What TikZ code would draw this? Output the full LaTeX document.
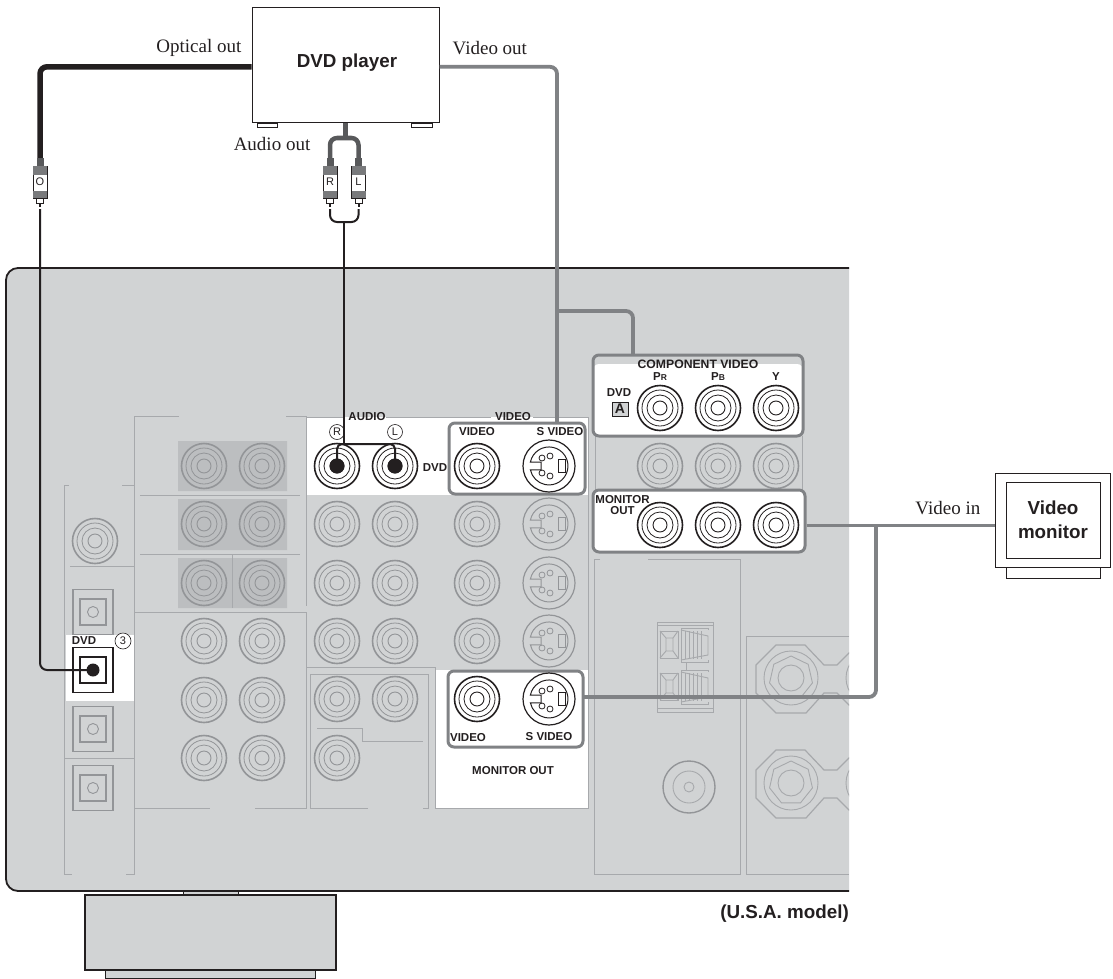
\documentclass[tikz,border=0pt]{standalone}
\usepackage{fontspec}
\setmainfont{Liberation Serif}
\setsansfont{Liberation Sans}
\usetikzlibrary{positioning, shapes.geometric}
\definecolor{panelgray}{HTML}{D1D3D4}
\definecolor{shadegray}{HTML}{BCBEC0}
\definecolor{linegray}{HTML}{A7A9AC}
\definecolor{jackgray}{HTML}{939598}
\definecolor{cablegray}{HTML}{808285}
\definecolor{forkgray}{HTML}{58595B}
\definecolor{inkblack}{HTML}{231F20}
\tikzset{
    cablelabel/.style={inner sep=0pt, text=inkblack, font=\fontsize{19}{22}\selectfont},
    biglabel/.style={inner sep=0pt, text=inkblack, align=center, font=\sffamily\bfseries\fontsize{18.8}{24}\selectfont},
    smalllabel/.style={inner sep=0pt, text=inkblack, align=center, font=\sffamily\bfseries\fontsize{11.5}{10.5}\selectfont},
    circlelabel/.style={circle, draw=inkblack, fill=white, line width=.6pt, inner sep=0pt, minimum size=15pt, text=inkblack, font=\sffamily\fontsize{11}{11}\selectfont},
    devicebox/.style={rectangle, draw=inkblack, fill=white, line width=1pt, inner sep=0pt},
    plugbody/.style={rectangle, draw=inkblack, fill=white, line width=.8pt, inner sep=0pt, minimum width=14pt, minimum height=32pt, text=inkblack, font=\sffamily\fontsize{11}{11}\selectfont},
    groupbox/.style={rectangle, rounded corners=6pt, draw=cablegray, line width=3pt, inner sep=0pt},
    thingray/.style={draw=linegray, line width=.9pt},
    opticalcable/.style={draw=inkblack, line width=5.5pt},
    videocable/.style={draw=cablegray, line width=3.8pt},
    forkcable/.style={draw=forkgray, line width=4.5pt},
    feedline/.style={draw=inkblack, line width=2pt},
    terminalnut/.style={regular polygon, regular polygon sides=7, draw=linegray, line width=.9pt, inner sep=0pt, minimum size=44pt}
}
% one round socket
\newcommand{\rcajack}[2]{%
    \draw[#2, line width=1.6pt] (#1) circle[radius=22.5];
    \draw[#2, line width=.8pt] (#1) circle[radius=18] (#1) circle[radius=13];
    \draw[#2, line width=.9pt] (#1) circle[radius=7];
}
% one S video socket
\newcommand{\svideojack}[2]{%
    \begin{scope}[shift={(#1)}, #2]
        \draw[line width=1.2pt] (0,0) circle[radius=26];
        \draw[line width=1pt] (-8,-4) -- (-18.6,-4) arc[start angle=192, end angle=528, radius=19] -- (-8,4) -- cycle;
        \draw[line width=1pt] (9,-6.5) rectangle (16,6.5);
        \foreach \px/\py in {-7/-8, 1/-10, -7/7, 1/10}{
            \draw[line width=.8pt] (\px,\py) circle[radius=3];
        }
    \end{scope}
}
% one square optical socket
\newcommand{\opticaljack}[2]{%
    \begin{scope}[shift={(93,#1)}, #2]
        \draw[line width=1.8pt] (-20,-22.5) rectangle (20,22.5);
        \draw[line width=1.1pt] (-13,-13) rectangle (13,13);
    \end{scope}
}
% one plug on a cable
\newcommand{\cableplug}[3]{%
    \begin{scope}[shift={(#2,0)}]
        \fill[forkgray] (-3.5,158) rectangle (3.5,166);
        \node[plugbody](#1) at (0,182){#3};
        \fill[forkgray!80] (-7,166) rectangle (7,175);
        \fill[forkgray!80] (-7,191) rectangle (7,198);
        \draw[inkblack, fill=white, line width=.8pt] (-3.5,198) rectangle (3.5,203);
        \fill[inkblack] (-1,203) rectangle (1,207);
    \end{scope}
}
% one push clip of the speaker block
\newcommand{\speakerclip}[1]{%
    \begin{scope}[shift={(0,#1)}, thingray]
        \draw (660,0) rectangle (678,27);
        \draw (666,7) rectangle (673,20) (660,0) -- (666,7) (678,0) -- (673,7) (660,27) -- (666,20) (678,27) -- (673,20);
        \draw (708,-1) -- (708,-3) -- (681,-3) -- (681,31) -- (708,31) -- (708,29);
        \draw (681,-1) -- (708,5) -- (708,24) -- (681,29);
        \foreach \rx in {685,689,693,697,701}{
            \draw[line width=.6pt] (\rx,0) -- (\rx,28);
        }
    \end{scope}
}
% one screw terminal with its neck
\newcommand{\screwterminal}[2]{%
    \begin{scope}[shift={(0,#1)}, thingray]
        \draw[line width=1.2pt] (850,-26) -- (837,-13) -- (824,-13) -- (805,-33) -- (776,-33) -- (756,-13) -- (756,15) -- (776,35) -- (806,35) -- (824,15) -- (837,15) -- (850,28);
        \draw (791,0) circle[radius=27] (791,0) circle[radius=13] (873,0) circle[radius=27] (873,0) circle[radius=13];
        \node[terminalnut](#2) at (791,0){};
    \end{scope}
}

\begin{document}
\begin{tikzpicture}[x=1pt, y=-1pt]
    \useasboundingbox (0,0) rectangle (1113,979);

    %Feet and panel
    \fill[panelgray] (105,970) rectangle (315,978);
    \draw[inkblack, line width=1pt] (105,970) rectangle (315,978);
    \draw[inkblack, fill=panelgray, line width=1pt] (183,888) rectangle (238,895);
    \draw[inkblack, fill=panelgray, line width=1.8pt] (85,895) rectangle (336,970);
    \path[fill=panelgray, draw=inkblack, line width=1.8pt] (849,268) [rounded corners=12pt] -- (6,268) -- (6,891) [sharp corners] -- (849,891);
    \coordinate (panelcorner) at (849,891);

    %Shaded sockets and white areas
    \fill[shadegray] (178,441) rectangle (287,491) (178,499) rectangle (287,550) (178,558) rectangle (287,608);
    \fill[white] (306,417) rectangle (588,495);
    \fill[white] (435,670) rectangle (588,808);
    \fill[white] (66,635) rectangle (134,701);

    %Panel lines
    \draw[thingray] (179,416) -- (134.5,416) -- (134.5,874) -- (125.5,874);
    \draw[thingray] (286,416) -- (306,416) -- (306,606);
    \draw[thingray] (122,485) -- (134.5,485);
    \draw[thingray] (69,485) -- (64,485) -- (64,874) -- (72,874);
    \draw[thingray] (140,495) -- (300,495) (140,554) -- (300,554) (232.7,554) -- (232.7,608);
    \draw[thingray] (70,566) -- (134.5,566) (64,758) -- (134.5,758);
    \draw[thingray] (134.5,612) -- (306,612) -- (306,667) -- (435,667) (306,612) -- (306,808) -- (255,808) (134.5,808) -- (210,808);
    \draw[thingray] (368,808) -- (310.7,808) -- (310.7,674) -- (428,674) -- (428,808) -- (423,808);
    \draw[thingray] (317,728) -- (362,728) -- (362,741) -- (423,741);
    \draw[thingray] (306,417) -- (345,417) (386,417) -- (491,417) (533,417) -- (588,417) -- (588,808) -- (435,808) -- (435,667);
    \draw[thingray] (595,436) -- (595,491) (802,436) -- (802,491);
    \draw[thingray] (600,559) -- (594,559) -- (594,874) -- (740,874) -- (740,559) -- (648,559);
    \draw[thingray] (849,636) -- (746,636) -- (746,874) -- (849,874);

    %Left column of sockets
    \rcajack{95,541}{jackgray}
    \foreach \py in {612,729,788}{
        \opticaljack{\py}{jackgray}
        \draw[jackgray, line width=.9pt] (93,\py) circle[radius=5.5];
    }
    \opticaljack{670}{inkblack}
    \coordinate (opticalin) at (93,670);
    \node[smalllabel](opticaldvd) at (84,641){DVD};
    \node[circlelabel, minimum size=16pt](stepthree) at (123,641){3};

    %Sockets in rows
    \foreach \py in {466,524,583,641,700,758}{
        \rcajack{204,\py}{jackgray}
        \rcajack{262,\py}{jackgray}
    }
    \foreach \py in {524,583,641}{
        \rcajack{337,\py}{jackgray}
        \rcajack{395,\py}{jackgray}
        \rcajack{477,\py}{jackgray}
        \svideojack{549,\py}{jackgray}
    }
    \rcajack{337,699}{jackgray}
    \rcajack{395,699}{jackgray}
    \rcajack{337,758}{jackgray}
    \foreach \px in {660,718,776}{
        \rcajack{\px,466}{jackgray}
    }

    %Speaker block, screw terminals and antenna socket
    \draw[thingray] (657,622) rectangle (713.5,712) (657,625.5) -- (713.5,625.5) (657,708) -- (713.5,708);
    \speakerclip{631}
    \speakerclip{673}
    \draw[thingray] (686,662) -- (686,670);
    \draw[jackgray, line width=1.4pt] (689,787) circle[radius=26];
    \draw[thingray] (689,787) circle[radius=16] (689,787) circle[radius=5];
    \begin{scope}
        \clip (750,636) rectangle (849,874);
        \screwterminal{678}{nutA}
        \screwterminal{783}{nutB}
    \end{scope}

    %Group boxes
    \fill[white, rounded corners=6pt] (593,364) rectangle (803,436);
    \node[groupbox, minimum width=210pt, minimum height=81pt](compbox) at (698,395.5){};
    \node[groupbox, fill=white, minimum width=212pt, minimum height=62pt](monoutbox) at (699,521){};
    \node[groupbox, minimum width=136pt, minimum height=71pt](videobox) at (517,458.5){};
    \node[groupbox, minimum width=135pt, minimum height=76pt](smonbox) at (515.5,709){};

    %Devices
    \draw[inkblack, line width=.9pt] (257,123) rectangle (277,127) (411,123) rectangle (432,127);
    \node[devicebox, minimum width=187pt, minimum height=115pt](dvd) at (345.5,65.5){};
    \node[biglabel](dvdname) at (347,62.5){DVD player};
    \draw[inkblack, line width=1pt] (1006,567) rectangle (1100,578);
    \node[devicebox, minimum width=115pt, minimum height=94pt](monitor) at (1052.5,520){};
    \node[devicebox, minimum width=94pt, minimum height=76pt, align=center, text=inkblack, font=\sffamily\bfseries\fontsize{18.8}{24}\selectfont](screen) at (1053,520){Video\\monitor};

    %Connected sockets
    \coordinate (dvdR) at (337,466);
    \coordinate (dvdL) at (395,466);
    \rcajack{dvdR}{inkblack}
    \rcajack{dvdL}{inkblack}
    \rcajack{477,466}{inkblack}
    \svideojack{549,466}{inkblack}
    \foreach \px in {660,718,776}{
        \rcajack{\px,408}{inkblack}
        \rcajack{\px,525}{inkblack}
    }
    \rcajack{477,699}{inkblack}
    \svideojack{549,699}{inkblack}

    %Panel texts
    \node[smalllabel](audiotitle) at (367,417){AUDIO};
    \node[smalllabel](videotitle) at (513,417){VIDEO};
    \node[circlelabel](audioR) at (337,432){R};
    \node[circlelabel](audioL) at (395,432){L};
    \node[smalllabel](videoname) at (477,432){VIDEO};
    \node[smalllabel](svideoname) at (560,432){S VIDEO};
    \node[smalllabel](rowdvd) at (435,468){DVD};
    \node[smalllabel, font=\sffamily\bfseries\fontsize{12.2}{12}\selectfont](comptitle) at (698,364){COMPONENT VIDEO};
    \node[smalllabel](comppr) at (660,377){P{\fontsize{8.5}{9}\selectfont R}};
    \node[smalllabel](comppb) at (718,377){P{\fontsize{8.5}{9}\selectfont B}};
    \node[smalllabel](compy) at (776,377){Y};
    \node[smalllabel](compdvd) at (619,393){DVD};
    \node[rectangle, draw=inkblack, fill=panelgray, line width=1pt, inner sep=0pt, minimum width=16pt, minimum height=14pt, text=inkblack, font=\sffamily\bfseries\fontsize{14}{14}\selectfont](compa) at (620,409){A};
    \node[smalllabel](monoutname) at (622.5,505){MONITOR\\OUT};
    \node[smalllabel](smonvideo) at (468,738){VIDEO};
    \node[smalllabel](smonsvideo) at (549,737){S VIDEO};
    \node[smalllabel](monouttitle) at (513,771){MONITOR OUT};

    %Cables
    \coordinate (plugOtip) at (40,209);
    \coordinate (plugRtip) at (330,209);
    \coordinate (plugLtip) at (358.5,209);
    \coordinate (forkjoin) at (344.3,138);
    \coordinate (loopjoin) at (344.3,222);
    \coordinate (audiojoin) at (344.3,444);
    \coordinate (svideofeed) at (557,423);
    \coordinate (compbranch) at (557,311);
    \coordinate (compfeed) at (633,354);
    \coordinate (monitorjoin) at (876,525.5);
    \coordinate (smonfeed) at (584,697);
    \draw[opticalcable, rounded corners=7pt] ([yshift=-1.3pt]dvd.west) -| (40,160);
    \draw[videocable, rounded corners=7pt] ([yshift=-1.3pt]dvd.east) -| (svideofeed);
    \draw[videocable, rounded corners=7pt] (compbranch) -| (compfeed);
    \draw[videocable] (monoutbox.east |- monitorjoin) -- (monitor.west |- monitorjoin);
    \draw[videocable, rounded corners=7pt] (smonfeed) -| (monitorjoin);
    \draw[forkcable] (dvd.south) -- (dvd.south |- forkjoin);
    \draw[forkcable, rounded corners=7pt] (330,160) |- (forkjoin) -| (358.5,160);
    \cableplug{plugO}{40}{O}
    \cableplug{plugR}{330}{R}
    \cableplug{plugL}{358.5}{L}
    \draw[feedline, rounded corners=7pt] (plugRtip) |- (loopjoin) -| (plugLtip);
    \draw[feedline] (loopjoin) -- (audiojoin);
    \draw[feedline, rounded corners=5pt] (dvdR) |- (audiojoin) -| (dvdL);
    \fill[inkblack] (dvdR) circle[radius=7.5] (dvdL) circle[radius=7.5];
    \draw[feedline, rounded corners=7pt] (plugOtip) |- (opticalin);
    \fill[inkblack] (opticalin) circle[radius=6.5];

    %Cable texts
    \node[cablelabel](opticalout)[left=10pt of dvd.north west, yshift=-40pt]{Optical out};
    \node[cablelabel](videoout)[right=13pt of dvd.north east, yshift=-41pt]{Video out};
    \node[cablelabel](audioout)[left=35pt of dvd.south, yshift=-21pt]{Audio out};
    \node[cablelabel](videoin)[left=14pt of monitor.west, yshift=12pt]{Video in};
    \node[biglabel](modelname)[below left=14pt and 0pt of panelcorner]{(U.S.A. model)};
\end{tikzpicture}
\end{document}
